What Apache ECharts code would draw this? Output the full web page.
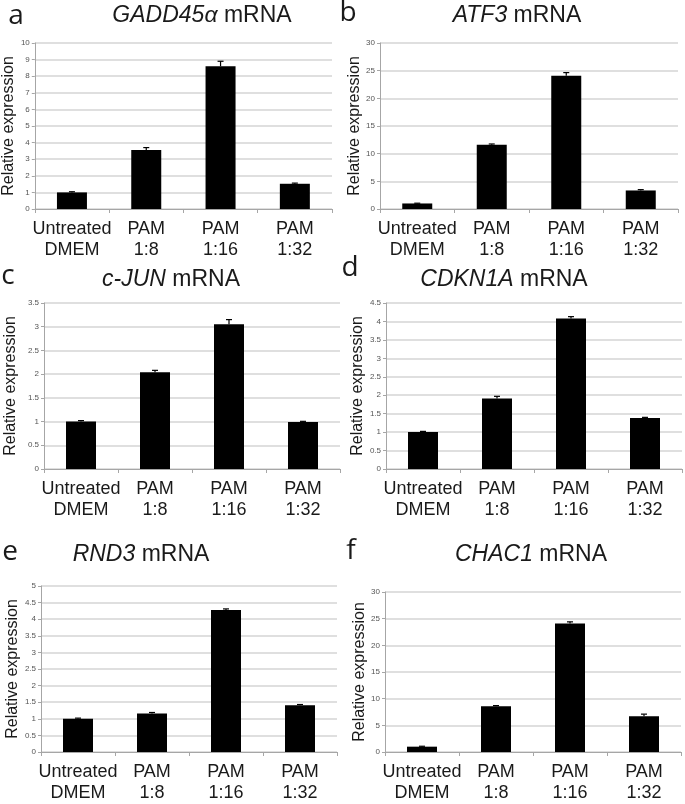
<!DOCTYPE html>
<html><head><meta charset="utf-8">
<script src="https://cdn.jsdelivr.net/npm/echarts@6/dist/echarts.min.js"></script>
<style>html,body{margin:0;padding:0;background:#fff}#c{width:685px;height:804px}</style>
</head><body><div id="c"></div>
<script>
// ---- data ----
const categories = ['Untreated\nDMEM', 'PAM\n1:8', 'PAM\n1:16', 'PAM\n1:32'];
const panelLetters = ['a', 'b', 'c', 'd', 'e', 'f'];
const geneNames = ['GADD45\u03b1', 'ATF3', 'c-JUN', 'CDKN1A', 'RND3', 'CHAC1'];
const gadd45aValues = [1.0, 3.55, 8.6, 1.52];
const gadd45aErrors = [0.04, 0.15, 0.3, 0.04];
const atf3Values = [1.0, 11.6, 24.1, 3.35];
const atf3Errors = [0.05, 0.15, 0.55, 0.15];
const cjunValues = [1.0, 2.04, 3.05, 0.99];
const cjunErrors = [0.02, 0.04, 0.1, 0.015];
const cdkn1aValues = [1.0, 1.91, 4.08, 1.38];
const cdkn1aErrors = [0.02, 0.06, 0.05, 0.02];
const rnd3Values = [1.0, 1.16, 4.28, 1.41];
const rnd3Errors = [0.02, 0.03, 0.03, 0.02];
const chac1Values = [1.0, 8.6, 24.1, 6.7];
const chac1Errors = [0.08, 0.1, 0.3, 0.4];
const yMax = [10, 30, 3.5, 4.5, 5, 30];
const yInterval = [1, 5, 0.5, 0.5, 0.5, 5];

const allValues = [gadd45aValues, atf3Values, cjunValues, cdkn1aValues, rnd3Values, chac1Values];
const allErrors = [gadd45aErrors, atf3Errors, cjunErrors, cdkn1aErrors, rnd3Errors, chac1Errors];

// ---- layout ----
const grids = [
  {left: 34, top: 43, width: 298, height: 166},
  {left: 380, top: 43, width: 298, height: 166},
  {left: 44, top: 303, width: 296, height: 166},
  {left: 386, top: 303, width: 296, height: 166},
  {left: 41, top: 586, width: 296, height: 166},
  {left: 385, top: 592, width: 296, height: 166}
];
const nameGaps = [11, 17, 25, 17, 19, 16];
const titlePos = [[202, 16], [517, 16], [171, 280], [504, 280], [141, 555], [531, 555]];
const letterPos = [[16, 16], [348, 13], [8, 276], [350, 268], [10, 552], [351, 551]];

const chart = echarts.init(document.getElementById('c'), null, {renderer: 'canvas'});
const F = 'Liberation Sans, Arial, sans-serif';

const option = {
  animation: false,
  backgroundColor: '#fff',
  grid: grids.map(g => Object.assign({containLabel: false}, g)),
  xAxis: grids.map((g, i) => ({
    type: 'category', gridIndex: i, data: categories,
    axisLine: {lineStyle: {color: '#a6a6a6', width: 1}},
    axisTick: {show: true, length: 4, lineStyle: {color: '#a6a6a6'}},
    axisLabel: {fontFamily: F, fontSize: 18, color: '#1a1a1a', lineHeight: 21, margin: 10, interval: 0}
  })),
  yAxis: grids.map((g, i) => ({
    type: 'value', gridIndex: i, min: 0, max: yMax[i], interval: yInterval[i],
    name: 'Relative expression', nameLocation: 'middle', nameGap: nameGaps[i],
    nameTextStyle: {fontFamily: F, fontSize: 16, color: '#1a1a1a'},
    axisLine: {show: true, lineStyle: {color: '#a6a6a6', width: 1}},
    axisTick: {show: true, length: 3, lineStyle: {color: '#a6a6a6'}},
    axisLabel: {fontFamily: F, fontSize: 8, color: '#555', margin: 5},
    splitLine: {lineStyle: {color: '#d4d4d4', width: 1.5}}
  })),
  series: [],
  graphic: []
};

allValues.forEach((vals, i) => {
  option.series.push({
    type: 'bar', xAxisIndex: i, yAxisIndex: i, data: vals, barWidth: 30,
    itemStyle: {color: '#000'}, z: 2
  });
  option.series.push({
    type: 'custom', xAxisIndex: i, yAxisIndex: i, z: 3,
    data: vals.map((v, k) => [k, v, allErrors[i][k]]),
    encode: {x: 0, y: 1},
    renderItem: function (params, api) {
      const k = api.value(0), v = api.value(1), e = api.value(2);
      const p0 = api.coord([k, v]);
      const p1 = api.coord([k, v + e]);
      return {
        type: 'group', children: [
          {type: 'line', shape: {x1: p0[0], y1: p0[1], x2: p1[0], y2: p1[1]}, style: {stroke: '#000', lineWidth: 1.2}},
          {type: 'line', shape: {x1: p1[0] - 3, y1: p1[1], x2: p1[0] + 3, y2: p1[1]}, style: {stroke: '#000', lineWidth: 1.2}}
        ]
      };
    }
  });
  option.graphic.push({
    type: 'text', x: titlePos[i][0], y: titlePos[i][1], z: 10,
    style: {
      text: '{i|' + geneNames[i] + '}{n| mRNA}',
      align: 'center', verticalAlign: 'middle',
      rich: {
        i: {fontFamily: F, fontSize: 23, fontStyle: 'italic', fill: '#1a1a1a'},
        n: {fontFamily: F, fontSize: 23, fill: '#1a1a1a'}
      }
    }
  });
  option.graphic.push({
    type: 'text', x: letterPos[i][0], y: letterPos[i][1], z: 10,
    style: {text: panelLetters[i], font: '28px "Open Sans", sans-serif', fill: '#1a1a1a', align: 'center', verticalAlign: 'middle'}
  });
});

chart.setOption(option);
</script>
</body></html>
